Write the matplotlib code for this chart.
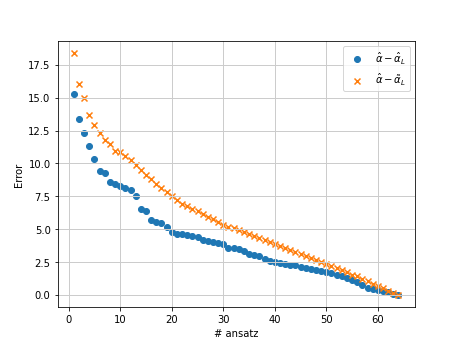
import matplotlib
matplotlib.use("Agg")
import matplotlib.pyplot as plt
import numpy as np

# number of ansatz on the x axis
ansatz = np.arange(1, 65)

# error of hat alpha_L
err_hat = [15.3, 13.4, 12.3, 11.35, 10.3, 9.45, 9.25, 8.6, 8.45, 8.3,
           8.15, 8.0, 7.55, 6.55, 6.35, 5.7, 5.55, 5.45, 5.2, 4.8,
           4.65, 4.6, 4.55, 4.5, 4.4, 4.15, 4.1, 4.05, 3.95, 3.9,
           3.6, 3.55, 3.5, 3.35, 3.1, 3.0, 2.95, 2.75, 2.6, 2.5,
           2.4, 2.35, 2.3, 2.25, 2.15, 2.05, 2.0, 1.9, 1.85, 1.75,
           1.65, 1.55, 1.45, 1.3, 1.1, 0.95, 0.75, 0.55, 0.45, 0.35,
           0.3, 0.2, 0.1, 0.0]

# error of tilde alpha_L
err_tilde = [18.4, 16.05, 14.95, 13.7, 12.9, 12.3, 11.75, 11.5, 10.95, 10.85,
             10.6, 10.25, 9.9, 9.5, 9.15, 8.8, 8.45, 8.1, 7.8, 7.5,
             7.2, 6.95, 6.75, 6.55, 6.35, 6.15, 5.95, 5.75, 5.55, 5.35,
             5.2, 5.05, 4.9, 4.75, 4.6, 4.45, 4.3, 4.15, 4.0, 3.85,
             3.7, 3.55, 3.4, 3.25, 3.1, 2.95, 2.8, 2.65, 2.5, 2.35,
             2.2, 2.05, 1.9, 1.75, 1.55, 1.4, 1.2, 1.05, 0.85, 0.65,
             0.5, 0.3, 0.15, 0.0]

fig, ax = plt.subplots(figsize=(6.4, 4.8), dpi=72)
ax.scatter(ansatz, err_hat, marker='o', label=r'$\hat{\alpha} - \hat{\alpha}_L$')
ax.scatter(ansatz, err_tilde, marker='x', label=r'$\hat{\alpha} - \tilde{\alpha}_L$')
ax.set_xlabel('# ansatz')
ax.set_ylabel('Error')
ax.grid(True, color='#cccccc', linewidth=1.0)
ax.legend(loc='upper right')

fig.savefig('out.png')
